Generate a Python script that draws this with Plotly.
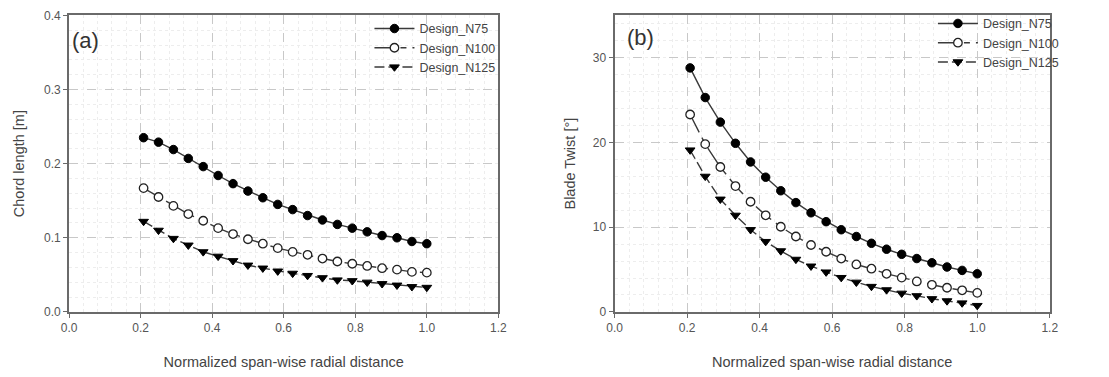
import plotly.graph_objects as go

x_pos = [5/24, 6/24, 7/24, 8/24, 9/24, 10/24, 11/24, 12/24, 13/24, 14/24,
         15/24, 16/24, 17/24, 18/24, 19/24, 20/24, 21/24, 22/24, 23/24, 24/24]

chord_n75 = [0.235, 0.229, 0.219, 0.207, 0.196, 0.184, 0.173, 0.163, 0.154, 0.145,
             0.138, 0.130, 0.124, 0.118, 0.113, 0.108, 0.103, 0.100, 0.095, 0.092]
chord_n100 = [0.167, 0.155, 0.143, 0.132, 0.123, 0.113, 0.105, 0.098, 0.092, 0.086,
              0.081, 0.077, 0.072, 0.068, 0.065, 0.062, 0.059, 0.057, 0.054, 0.053]
chord_n125 = [0.122, 0.110, 0.099, 0.090, 0.081, 0.075, 0.069, 0.063, 0.059, 0.055,
              0.052, 0.049, 0.046, 0.043, 0.042, 0.040, 0.038, 0.036, 0.034, 0.033]

twist_n75 = [28.8, 25.3, 22.4, 19.9, 17.7, 15.9, 14.3, 12.9, 11.7, 10.65,
             9.7, 8.9, 8.1, 7.4, 6.8, 6.3, 5.8, 5.3, 4.9, 4.5]
twist_n100 = [23.3, 19.8, 17.1, 14.85, 13.0, 11.4, 10.05, 8.9, 7.9, 7.1,
              6.3, 5.6, 5.1, 4.5, 4.05, 3.6, 3.2, 2.85, 2.55, 2.25]
twist_n125 = [19.1, 16.0, 13.3, 11.4, 9.7, 8.3, 7.2, 6.2, 5.4, 4.7,
              4.05, 3.5, 3.0, 2.6, 2.2, 1.9, 1.55, 1.3, 1.05, 0.75]

series_names = ["Design_N75", "Design_N100", "Design_N125"]
x_ticks = [0.0, 0.2, 0.4, 0.6, 0.8, 1.0, 1.2]
x_tick_text = ["0.0", "0.2", "0.4", "0.6", "0.8", "1.0", "1.2"]
chord_ticks = [0.0, 0.1, 0.2, 0.3, 0.4]
chord_tick_text = ["0.0", "0.1", "0.2", "0.3", "0.4"]
twist_ticks = [0, 10, 20, 30]

FONT = "Liberation Sans, Arial, sans-serif"
LINE_C = "#3a3a3a"

styles = [
    dict(dash="solid", symbol="circle"),
    dict(dash="20px,6px,6px,6px", symbol="circle-open"),
    dict(dash="10px,4px", symbol="triangle-down"),
]

fig = go.Figure()

def add_series(ys_list, xa, ya, legend_id):
    for name, ys, st in zip(series_names, ys_list, styles):
        if st["symbol"] == "circle-open":
            marker = dict(symbol="circle", size=8.5, color="white",
                          line=dict(color="#222", width=1.3))
        elif st["symbol"] == "circle":
            marker = dict(symbol="circle", size=8.5, color="black",
                          line=dict(color="black", width=1))
        else:
            marker = dict(symbol="triangle-down", size=8.5, color="black",
                          line=dict(color="black", width=1))
        fig.add_trace(go.Scatter(
            x=x_pos, y=ys, name=name, mode="lines+markers",
            line=dict(color=LINE_C, width=1.4, dash=st["dash"]),
            marker=marker, xaxis=xa, yaxis=ya, legend=legend_id,
        ))

add_series([chord_n75, chord_n100, chord_n125], "x", "y", "legend")
add_series([twist_n75, twist_n100, twist_n125], "x2", "y2", "legend2")

ydom = [0.16, 0.977]
axis_common = dict(
    showline=True, linecolor="#6a6a6a", linewidth=2, mirror=True,
    ticks="outside", ticklen=4, tickcolor="#6a6a6a", tickwidth=1,
    showgrid=True, gridcolor="#c8c8c8", griddash="dash", gridwidth=1,
    zeroline=False,
    tickfont=dict(family=FONT, size=12, color="#555"),
    title_font=dict(family=FONT, size=14.5, color="#444"),
)

minor_x = dict(dtick=0.04, showgrid=True, gridcolor="#ededed", griddash="dot")

fig.update_layout(
    width=1109, height=377,
    margin=dict(l=0, r=0, t=0, b=0),
    paper_bgcolor="white", plot_bgcolor="white",
    font=dict(family=FONT, color="#444"),
    xaxis=dict(domain=[62/1109, 498/1109], range=[0, 1.2],
               tickvals=x_ticks, ticktext=x_tick_text,
               title=dict(text="Normalized span-wise radial distance", standoff=23),
               minor=minor_x, anchor="y", **axis_common),
    yaxis=dict(domain=ydom, range=[0, 0.4],
               tickvals=chord_ticks, ticktext=chord_tick_text,
               title=dict(text="Chord length [m]", standoff=16),
               minor=dict(dtick=0.02, showgrid=True, gridcolor="#ededed", griddash="dot"),
               anchor="x", **axis_common),
    xaxis2=dict(domain=[616/1109, 1058/1109], range=[0, 1.2],
                tickvals=x_ticks, ticktext=x_tick_text,
                title=dict(text="Normalized span-wise radial distance", standoff=23),
                minor=minor_x, anchor="y2", **axis_common),
    yaxis2=dict(domain=ydom, range=[0, 35],
                tickvals=twist_ticks,
                title=dict(text="Blade Twist [°]", standoff=14),
                minor=dict(dtick=2, showgrid=True, gridcolor="#ededed", griddash="dot"),
                anchor="x2", **axis_common),
    legend=dict(x=0.331, y=0.981, xanchor="left", yanchor="top",
                bgcolor="rgba(255,255,255,0)", borderwidth=0,
                font=dict(family=FONT, size=12.5, color="#444"),
                itemwidth=40, tracegroupgap=0),
    legend2=dict(x=0.847, y=0.995, xanchor="left", yanchor="top",
                 bgcolor="rgba(255,255,255,0)", borderwidth=0,
                 font=dict(family=FONT, size=12.5, color="#444"),
                 itemwidth=40, tracegroupgap=0),
    showlegend=True,
    annotations=[
        dict(text="(a)", x=0.002, y=0.965, xref="x domain", yref="y domain",
             xanchor="left", yanchor="top", showarrow=False,
             font=dict(family=FONT, size=22, color="#333")),
        dict(text="(b)", x=0.025, y=0.975, xref="x2 domain", yref="y2 domain",
             xanchor="left", yanchor="top", showarrow=False,
             font=dict(family=FONT, size=22, color="#333")),
    ],
)

fig.write_html("out.html")
